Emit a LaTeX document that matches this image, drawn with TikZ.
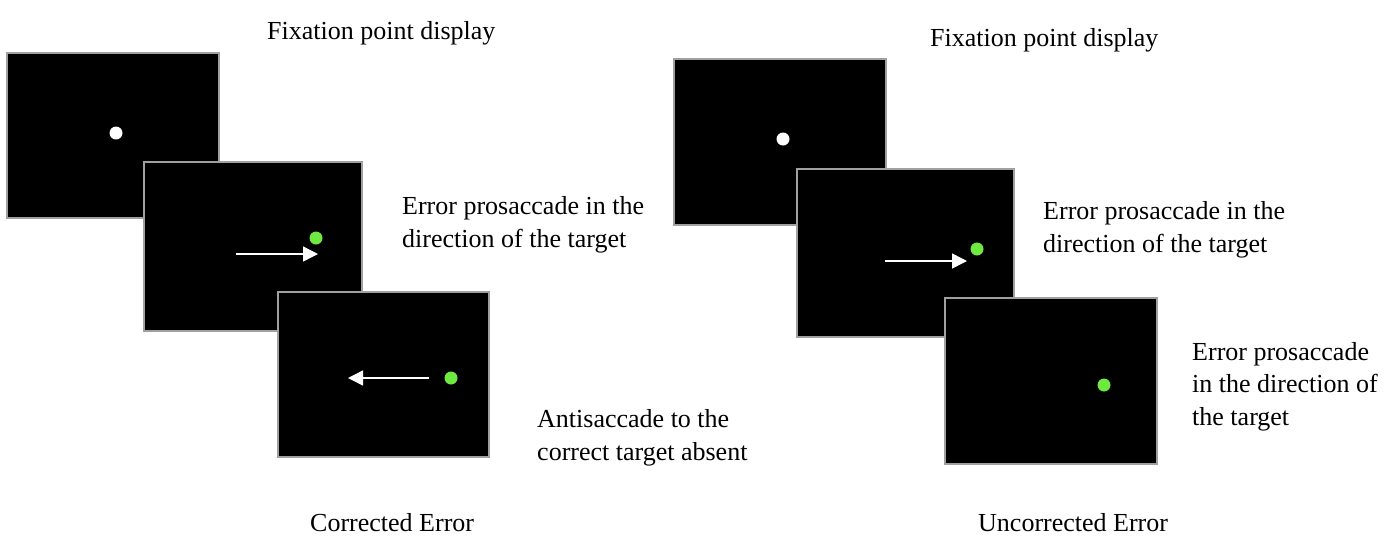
\documentclass[tikz,border=0pt]{standalone}
\usepackage{fontspec}
\setmainfont{Liberation Serif}
\usetikzlibrary{arrows.meta}
\definecolor{frame}{RGB}{160,160,160}
\definecolor{tgt}{RGB}{112,232,66}
\tikzset{
  panel/.style={draw=frame, line width=2.5pt, fill=black, inner sep=0pt},
  fixdot/.style={circle, fill=white, inner sep=0pt, minimum size=13pt},
  tgtdot/.style={circle, fill=tgt, inner sep=0pt, minimum size=13pt},
  sacc/.style={white, line width=1.5pt, -{Triangle[length=15pt,width=15pt]}},
  lbl/.style={font=\fontsize{26}{33}\selectfont, inner sep=0pt, align=left, anchor=base west},
}
\begin{document}
\begin{tikzpicture}[x=1pt,y=-1pt]
\useasboundingbox (0,0) rectangle (1400,539);
% ---------- left group ----------
\node[panel, minimum width=212pt, minimum height=165pt] (L1) at (113,135.5) {};
\node[fixdot] (L1dot) at (116,133) {};
\node[panel, minimum width=218pt, minimum height=169pt] (L2) at (253,246.5) {};
\node[tgtdot] (L2dot) at (316,238) {};
\coordinate (L2a) at (236,254);
\coordinate (L2b) at (318,254);
\draw[sacc] (L2a) -- (L2b);
\node[panel, minimum width=211pt, minimum height=165pt] (L3) at (383.5,374.5) {};
\node[tgtdot] (L3dot) at (451,378) {};
\coordinate (L3a) at (429,378);
\coordinate (L3b) at (348,378);
\draw[sacc] (L3a) -- (L3b);
\node[lbl] (Lfix) at (267,39) {Fixation point display};
\node[lbl] (Lerr) at (402,247) {Error prosaccade in the\\direction of the target};
\node[lbl] (Lanti) at (537,460) {Antisaccade to the\\correct target absent};
\node[lbl] (Lcap) at (310,531) {Corrected Error};
% ---------- right group ----------
\node[panel, minimum width=212pt, minimum height=166pt] (R1) at (780,142) {};
\node[fixdot] (R1dot) at (783,139) {};
\node[panel, minimum width=217pt, minimum height=168pt] (R2) at (905.5,253) {};
\node[tgtdot] (R2dot) at (977,249) {};
\coordinate (R2a) at (885,261);
\coordinate (R2b) at (967,261);
\draw[sacc] (R2a) -- (R2b);
\node[panel, minimum width=212pt, minimum height=166pt] (R3) at (1051,381) {};
\node[tgtdot] (R3dot) at (1104,385) {};
\node[lbl] (Rfix) at (930,46) {Fixation point display};
\node[lbl] (Rerr) at (1043,252) {Error prosaccade in the\\direction of the target};
\node[lbl, font=\fontsize{26}{32.5}\selectfont] (Rerr2) at (1192,425) {Error prosaccade\\in the direction of\\the target};
\node[lbl] (Rcap) at (978,531) {Uncorrected Error};
\end{tikzpicture}
\end{document}
